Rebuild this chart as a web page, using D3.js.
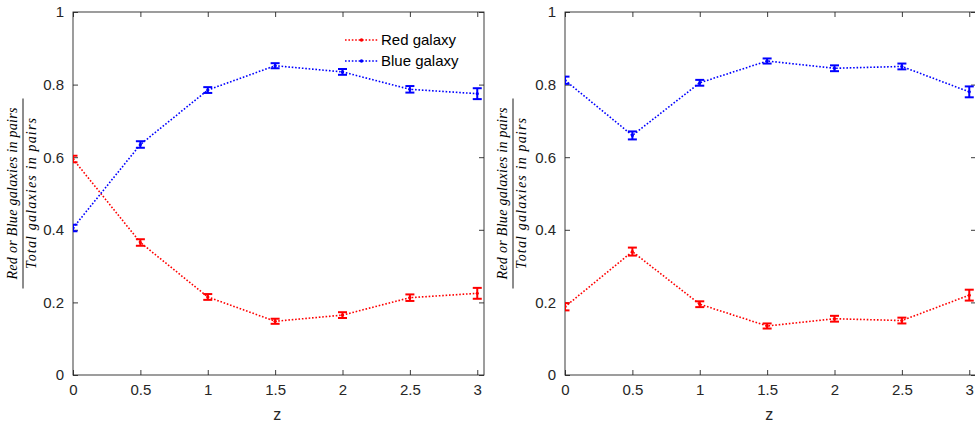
<!DOCTYPE html>
<html>
<head>
<meta charset="utf-8">
<script src="https://cdn.jsdelivr.net/npm/d3@7/dist/d3.min.js"></script>
<style>
  html, body { margin: 0; padding: 0; background: #fff; }
  svg { display: block; }
</style>
</head>
<body>
<svg id="chart" width="975" height="428"></svg>
<script>
// Redshift bins
const zValues = [0, 0.5, 1, 1.5, 2, 2.5, 3];
const xTicks = [0, 0.5, 1, 1.5, 2, 2.5, 3];
const xTickLabels = ["0", "0.5", "1", "1.5", "2", "2.5", "3"];
const yTicks = [0, 0.2, 0.4, 0.6, 0.8, 1];
const yTickLabels = ["0", "0.2", "0.4", "0.6", "0.8", "1"];

// Left panel: fractions of red / blue galaxies in pairs
const redLeft  = [0.595, 0.365, 0.215, 0.148, 0.165, 0.213, 0.225];
const blueLeft = [0.405, 0.635, 0.785, 0.852, 0.835, 0.787, 0.775];
const errLeft  = [0.009, 0.009, 0.008, 0.007, 0.008, 0.009, 0.015];

// Right panel
const redRight  = [0.188, 0.340, 0.195, 0.135, 0.155, 0.150, 0.220];
const blueRight = [0.812, 0.660, 0.805, 0.865, 0.845, 0.850, 0.780];
const errRight  = [0.010, 0.011, 0.008, 0.007, 0.008, 0.008, 0.015];

const seriesNames = ["Red galaxy", "Blue galaxy"];
const seriesColors = ["#ff0000", "#0000ff"];

const svg = d3.select("#chart");
const AXIS = "#262626";
const FONT = "'Liberation Sans', Arial, Helvetica, sans-serif";
const SERIF = "'Liberation Serif', 'Times New Roman', serif";

const panels = [
  { x0: 73,  x1: 484, red: redLeft,  blue: blueLeft,  err: errLeft,  legend: true,  labelX: 13 },
  { x0: 565, x1: 976, red: redRight, blue: blueRight, err: errRight, legend: false, labelX: 503 }
];
const yTop = 12, yBottom = 375;

panels.forEach((p, pi) => {
  const x = d3.scaleLinear().domain([0, 3.05]).range([p.x0, p.x1]);
  const y = d3.scaleLinear().domain([0, 1]).range([yBottom, yTop]);
  const g = svg.append("g");

  const clipId = "clip" + pi;
  svg.append("clipPath").attr("id", clipId)
    .append("rect").attr("x", p.x0).attr("y", yTop)
    .attr("width", p.x1 - p.x0).attr("height", yBottom - yTop);

  // Axes: ticks point inward and are mirrored on the top and right edges
  const tickLen = 5;
  const bottom = g.append("g").attr("transform", `translate(0,${yBottom})`)
    .call(d3.axisBottom(x).tickValues(xTicks).tickSize(-tickLen).tickPadding(9)
      .tickFormat((d, i) => xTickLabels[i]));
  const top = g.append("g").attr("transform", `translate(0,${yTop})`)
    .call(d3.axisTop(x).tickValues(xTicks).tickSize(-tickLen).tickFormat(""));
  const left = g.append("g").attr("transform", `translate(${p.x0},0)`)
    .call(d3.axisLeft(y).tickValues(yTicks).tickSize(-tickLen).tickPadding(9)
      .tickFormat((d, i) => yTickLabels[i]));
  const right = g.append("g").attr("transform", `translate(${p.x1},0)`)
    .call(d3.axisRight(y).tickValues(yTicks).tickSize(-tickLen).tickFormat(""));

  [bottom, top, left, right].forEach(a => {
    a.select(".domain").remove();
    a.selectAll(".tick line").attr("stroke", AXIS).attr("stroke-width", 0.9);
    a.selectAll(".tick text").attr("fill", AXIS).style("font-family", FONT).style("font-size", "15px");
  });
  g.append("rect").attr("x", p.x0).attr("y", yTop)
    .attr("width", p.x1 - p.x0).attr("height", yBottom - yTop)
    .attr("fill", "none").attr("stroke", AXIS).attr("stroke-width", 0.9);

  // x label
  g.append("text").attr("x", (x(0) + x(3)) / 2 + 2).attr("y", 420)
    .attr("text-anchor", "middle").attr("fill", AXIS)
    .style("font-family", FONT).style("font-size", "16px").text("z");

  // y label as a fraction
  const cy = (yTop + yBottom) / 2;
  const lab = g.append("g").attr("transform", `translate(${p.labelX},${cy}) rotate(-90)`);
  lab.append("text").attr("x", 0).attr("y", 0).attr("dy", "0.3em")
    .attr("text-anchor", "middle").attr("textLength", 172).attr("lengthAdjust", "spacing")
    .style("font-family", SERIF)
    .style("font-style", "italic").style("font-size", "14px").attr("fill", "#000")
    .text("Red or Blue galaxies in pairs");
  lab.append("line").attr("x1", -95).attr("x2", 95).attr("y1", 10).attr("y2", 10)
    .attr("stroke", "#000").attr("stroke-width", 0.9);
  lab.append("text").attr("x", 0).attr("y", 19).attr("dy", "0.3em")
    .attr("text-anchor", "middle").attr("textLength", 151).attr("lengthAdjust", "spacing")
    .style("font-family", SERIF)
    .style("font-style", "italic").style("font-size", "14px").attr("fill", "#000")
    .text("Total galaxies in pairs");

  // Data series: dotted line, point markers, error bars
  const plot = g.append("g").attr("clip-path", `url(#${clipId})`);
  [p.red, p.blue].forEach((vals, si) => {
    const color = seriesColors[si];
    const pts = zValues.map((z, i) => ({ z, v: vals[i], e: p.err[i] }));
    plot.append("path").datum(pts)
      .attr("d", d3.line().x(d => x(d.z)).y(d => y(d.v)))
      .attr("fill", "none").attr("stroke", color)
      .attr("stroke-width", 1.6).attr("stroke-dasharray", "1.6,1.8");
    const eb = plot.append("g").attr("stroke", color).attr("stroke-width", 2);
    pts.forEach(d => {
      const cx = x(d.z), y1 = y(d.v - d.e), y2 = y(d.v + d.e), w = 4.5;
      eb.append("line").attr("x1", cx).attr("x2", cx).attr("y1", y1).attr("y2", y2);
      eb.append("line").attr("x1", cx - w).attr("x2", cx + w).attr("y1", y1).attr("y2", y1);
      eb.append("line").attr("x1", cx - w).attr("x2", cx + w).attr("y1", y2).attr("y2", y2);
    });
    plot.append("g").selectAll("circle").data(pts).join("circle")
      .attr("cx", d => x(d.z)).attr("cy", d => y(d.v)).attr("r", 1.6).attr("fill", color);
  });

  // Legend
  if (p.legend) {
    const lg = g.append("g");
    seriesNames.forEach((name, i) => {
      const ly = 40 + i * 21;
      lg.append("line").attr("x1", 345).attr("x2", 378).attr("y1", ly).attr("y2", ly)
        .attr("stroke", seriesColors[i]).attr("stroke-width", 1.6).attr("stroke-dasharray", "1.6,1.8");
      lg.append("circle").attr("cx", 361.5).attr("cy", ly).attr("r", 1.8).attr("fill", seriesColors[i]);
      lg.append("text").attr("x", 381).attr("y", ly).attr("dy", "0.35em")
        .style("font-family", FONT).style("font-size", "15px").attr("fill", "#000").text(name);
    });
  }
});
</script>
</body>
</html>
